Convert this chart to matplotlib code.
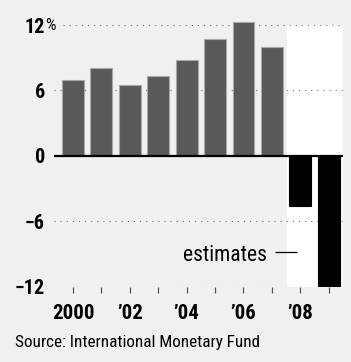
import matplotlib
matplotlib.use("Agg")
import matplotlib.pyplot as plt
from matplotlib import font_manager as fm
from matplotlib.patches import Rectangle

# Latvia GDP growth, %, 2008-09 are estimates
years = [2000, 2001, 2002, 2003, 2004, 2005, 2006, 2007, 2008, 2009]
growth = [7.0, 8.1, 6.5, 7.3, 8.8, 10.7, 12.3, 10.0, -4.6, -12.0]
is_estimate = [False] * 8 + [True, True]
xtick_labels = ["2000", "", "\u201902", "", "\u201904", "", "\u201906", "", "\u201908", ""]
ytick_values = [-12, -6, 0, 6, 12]
ytick_labels = ["\u221212", "\u22126", "0", "6", "12"]

# pick a condensed face if one is installed, else plain DejaVu
_have = {f.name for f in fm.fontManager.ttflist}
_cond = [n for n in ["Roboto Condensed", "Liberation Sans Narrow",
                     "Archivo Narrow", "Asap Condensed"] if n in _have]
CONDENSED = bool(_cond)
FAM = _cond[:1] + ["DejaVu Sans"]
BG = "#f0f0f0"

fig = plt.figure(figsize=(3.51, 3.62), dpi=100, facecolor=BG)
ax = fig.add_axes([0.1538, 0.208, 0.8232, 0.753], facecolor=BG)

x = list(range(len(years)))
ax.set_xlim(-0.67, 9.5)
ax.set_ylim(-12, 13)

# white panel behind the estimate years
ax.add_patch(Rectangle((7.54, -12), 9.5 - 7.54, 24, facecolor="white",
                       edgecolor="none", zorder=0))

# dotted gridlines
for v in ytick_values:
    if v == 0:
        continue
    xmin = 9 / 289 if v == 12 else 0
    ax.axhline(v, xmin=xmin, color="#707070", lw=0.8,
               linestyle=(0, (1, 4.5)), zorder=1)

colors = ["black" if e else "#595959" for e in is_estimate]
edges = ["black" if e else "#a8a8a8" for e in is_estimate]
ax.bar(x, growth, width=0.77, color=colors, edgecolor=edges,
       linewidth=0.8, zorder=2)

ax.axhline(0, color="black", lw=1.6, zorder=3)

for s in ax.spines.values():
    s.set_visible(False)

big = 15 if CONDENSED else 11.5
ax.set_xticks(x)
ax.set_xticklabels(xtick_labels, fontsize=big, fontweight="bold", family=FAM)
ax.tick_params(axis="x", length=4.3, width=0.9, color="#555555", pad=8.5,
               direction="out")
ax.set_yticks(ytick_values)
ax.set_yticklabels(ytick_labels, fontsize=big - 0.5, fontweight="bold",
                   family=FAM)
ax.tick_params(axis="y", length=0, pad=6.5)

# percent sign after the top label
ax.annotate("%", xy=(0, 12), xycoords=ax.get_yaxis_transform(),
            xytext=(-6.5, 0), textcoords="offset points", ha="left",
            va="center", fontsize=12, family=FAM)

# "estimates" label with a short leader dash
ax.text(6.83, -9.1, "estimates", ha="right", va="center",
        fontsize=15.5 if CONDENSED else 12, family=FAM)
ax.plot([7.11, 7.88], [-8.85, -8.85], color="black", lw=0.9,
        solid_capstyle="butt", zorder=3)

fig.text(15 / 351, 1 - 342 / 362, "Source: International Monetary Fund",
         ha="left", va="center", fontsize=12.3 if CONDENSED else 9.5,
         family=FAM)

fig.savefig("out.png", dpi=100, facecolor=BG)
